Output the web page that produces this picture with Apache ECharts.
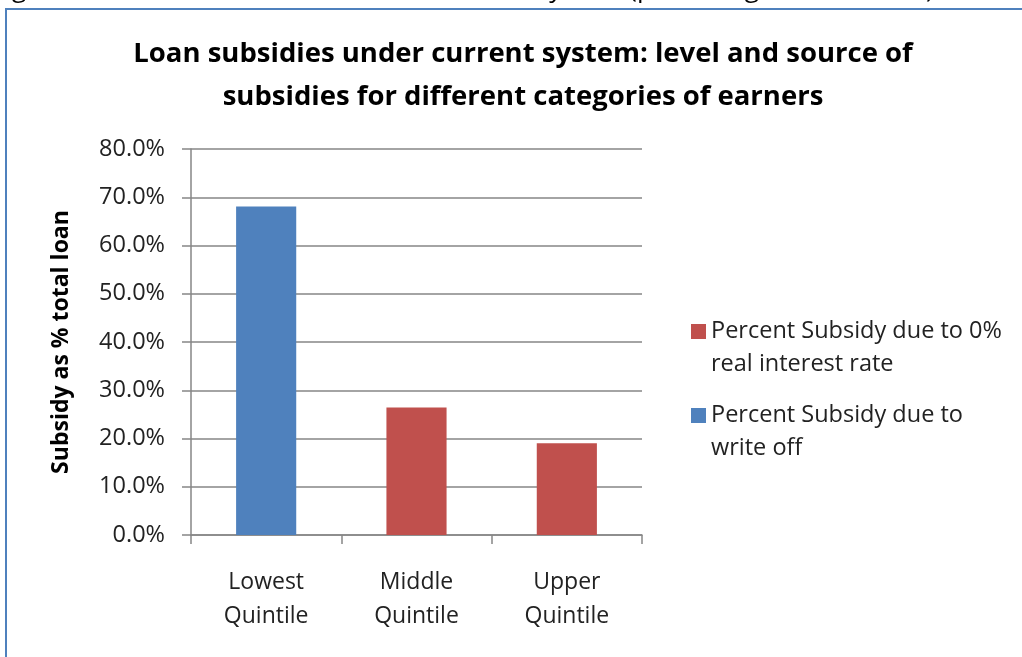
<!DOCTYPE html>
<html>
<head>
<meta charset="utf-8">
<script src="https://cdn.jsdelivr.net/npm/echarts@6/dist/echarts.min.js"></script>
<style>
  html, body { margin: 0; padding: 0; background: #fff; }
  #chart { width: 1022px; height: 657px; }
</style>
</head>
<body>
<div id="chart"></div>
<script>
const categories = ['Lowest\nQuintile', 'Middle\nQuintile', 'Upper\nQuintile'];
const writeOff = [68.1, 0, 0];
const zeroRate = [0, 26.4, 19.0];
const yTicks = { min: 0, max: 80, interval: 10 };

const nameRate = 'Percent Subsidy due to 0%\nreal interest rate';
const nameWrite = 'Percent Subsidy due to\nwrite off';

const FONT = 'Open Sans';
const GRID_COL = '#868686';

// square sits on the first line of a two-line legend label
const legendIcon = 'path://M0,0M15,66M0,9L15,9L15,24L0,24Z';

const chart = echarts.init(document.getElementById('chart'));

const option = {
    animation: false,
    textStyle: { fontFamily: FONT },
    title: {
        text: 'Loan subsidies under current system: level and source of\nsubsidies for different categories of earners',
        left: 518,
        textAlign: 'center',
        top: 28,
        textStyle: {
            fontFamily: FONT,
            fontWeight: 'bold',
            fontSize: 27.5,
            lineHeight: 43,
            color: '#000'
        }
    },
    legend: {
        data: [nameRate, nameWrite],
        orient: 'vertical',
        left: 686,
        top: 310,
        itemWidth: 15,
        itemHeight: 66,
        itemGap: 18,
        icon: legendIcon,
        textStyle: {
            fontFamily: FONT,
            fontSize: 23.5,
            lineHeight: 33,
            color: '#222'
        }
    },
    grid: { left: 191, right: 380, top: 149, bottom: 122 },
    xAxis: {
        type: 'category',
        data: categories,
        axisLine: { lineStyle: { color: GRID_COL, width: 1.5 } },
        axisTick: { show: true, length: 9, lineStyle: { color: GRID_COL, width: 1.5 } },
        axisLabel: {
            margin: 30,
            fontSize: 23,
            lineHeight: 34,
            color: '#222',
            fontFamily: FONT
        }
    },
    yAxis: {
        type: 'value',
        min: yTicks.min,
        max: yTicks.max,
        interval: yTicks.interval,
        name: 'Subsidy as % total loan',
        nameLocation: 'middle',
        nameRotate: 90,
        nameGap: 118,
        nameTextStyle: {
            fontFamily: FONT,
            fontWeight: 'bold',
            fontSize: 23,
            color: '#000'
        },
        axisLine: { show: true, lineStyle: { color: GRID_COL, width: 1.5 } },
        axisTick: { show: true, length: 9, lineStyle: { color: GRID_COL, width: 1.5 } },
        splitLine: { lineStyle: { color: GRID_COL, width: 1.5 } },
        axisLabel: {
            margin: 26,
            fontSize: 23.5,
            color: '#222',
            fontFamily: FONT,
            formatter: v => v.toFixed(1) + '%'
        }
    },
    series: [
        {
            name: nameWrite,
            type: 'bar',
            stack: 'total',
            barWidth: '40%',
            itemStyle: { color: '#4f81bd' },
            data: writeOff
        },
        {
            name: nameRate,
            type: 'bar',
            stack: 'total',
            barWidth: '40%',
            itemStyle: { color: '#c0504d' },
            data: zeroRate
        }
    ],
    graphic: [
        {
            type: 'text',
            left: -8,
            top: -23,
            style: {
                text: 'Figure 1: Interest subsidies with current loan system (percentage of total loan)',
                font: '26px "Open Sans"',
                fill: '#000'
            }
        },
        {
            type: 'rect',
            shape: { x: 6, y: 9, width: 1040, height: 680 },
            style: { fill: 'none', stroke: '#4f81bd', lineWidth: 2 }
        }
    ]
};

chart.setOption(option);
</script>
</body>
</html>
